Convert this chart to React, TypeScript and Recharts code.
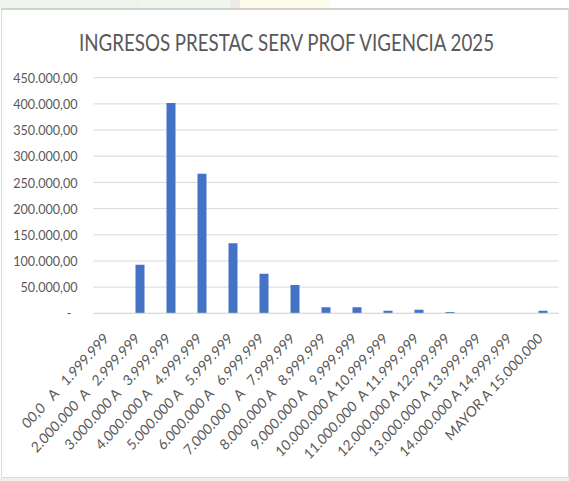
import React from 'react';
import { BarChart, Bar, XAxis, YAxis, CartesianGrid } from 'recharts';

const title = 'INGRESOS PRESTAC SERV PROF VIGENCIA 2025';

const categories = [
  '00,0   A   1.999.999',
  '2.000.000  A   2.999.999',
  '3.000.000 A   3.999.999',
  '4.000.000 A   4.999.999',
  '5.000.000 A   5.999.999',
  '6.000.000 A   6.999.999',
  '7.000.000   A   7.999.999',
  '8.000.000 A   8.999.999',
  '9.000.000 A   9.999.999',
  '10.000.000 A 10.999.999',
  '11.000.000  A 11.999.999',
  '12.000.000 A 12.999.999',
  '13.000.000 A 13.999.999',
  '14.000.000 A 14.999.999',
  'MAYOR A 15.000.000',
];

const ingresos = [500, 92500, 401500, 266500, 134000, 75500, 54000, 11500, 11500, 5000, 7000, 2500, 600, 500, 5000];

const yTicks = [0, 50000, 100000, 150000, 200000, 250000, 300000, 350000, 400000, 450000];

const data = categories.map((c, i) => ({ rango: c, valor: ingresos[i] }));

const FONT = 'Lato, "Open Sans", sans-serif';
const TEXT_COLOR = '#595959';

function formatMoney(v: number): string {
  if (v === 0) return '-';
  const s = Math.round(v).toString().replace(/\B(?=(\d{3})+(?!\d))/g, '.');
  return s + ',00';
}

const YTick = (props: any) => {
  const { x, y, payload } = props;
  const isZero = payload.value === 0;
  return (
    <g transform={`translate(${x - (isZero ? 6 : 0)},${y}) scale(1,1.12)`}>
      <text
        x={0}
        y={0}
        dy="0.36em"
        textAnchor="end"
        fill={TEXT_COLOR}
        fontSize={12.6}
        fontFamily={FONT}
      >
        {formatMoney(payload.value)}
      </text>
    </g>
  );
};

const XTick = (props: any) => {
  const { x, y, payload } = props;
  return (
    <g transform={`translate(${x + 0.5},${y + 18.2}) scale(1,1.1)`}>
      <text
        x={0}
        y={0}
        textAnchor="end"
        transform="rotate(-45)"
        fill={TEXT_COLOR}
        fontSize={13.4}
        fontFamily={FONT}
        style={{ whiteSpace: 'pre' }}
      >
        {payload.value}
      </text>
    </g>
  );
};

export default function App() {
  return (
    <div
      style={{
        position: 'fixed',
        left: 0,
        top: 0,
        width: 569,
        height: 481,
        background: '#ffffff',
        overflow: 'hidden',
      }}
    >
      {/* faint background strip at top */}
      <div style={{ position: 'absolute', left: 0, top: 0, width: 569, height: 8, background: '#ffffff' }} />
      <div style={{ position: 'absolute', left: 0, top: 0, width: 140, height: 8, background: '#eef3ee' }} />
      <div style={{ position: 'absolute', left: 140, top: 0, width: 90, height: 8, background: '#f1f7ef' }} />
      <div style={{ position: 'absolute', left: 230, top: 0, width: 10, height: 8, background: '#f0eaea' }} />
      <div style={{ position: 'absolute', left: 240, top: 0, width: 90, height: 8, background: '#fdfbe9' }} />
      {/* frame */}
      <div
        style={{
          position: 'absolute',
          left: 1,
          top: 8,
          width: 566,
          height: 467,
          borderTop: '2px solid #d2d2d2',
          borderLeft: '1px solid #dcdcdc',
          borderRight: '1px solid #dcdcdc',
          borderBottom: '1px solid #dcdcdc',
        }}
      />
      <div style={{ position: 'absolute', left: 0, top: 478, width: 569, height: 3, background: '#eeeeee' }} />

      <svg style={{ position: 'absolute', left: 0, top: 0 }} width={569} height={70}>
        <g transform="translate(286.5,51) scale(1,1.08)">
          <text
            x={0}
            y={0}
            textAnchor="middle"
            fill={TEXT_COLOR}
            fontSize={21}
            fontFamily={FONT}
            textLength={415}
            lengthAdjust="spacingAndGlyphs"
          >
            {title}
          </text>
        </g>
      </svg>

      <div style={{ position: 'absolute', left: 0, top: 0 }}>
        <BarChart
          width={569}
          height={481}
          data={data}
          margin={{ top: 77.7, right: 10.5, bottom: 7.7, left: 8.5 }}
          barCategoryGap={0}
        >
          <CartesianGrid vertical={false} stroke="#d9d9d9" strokeWidth={1} />
          <XAxis
            dataKey="rango"
            interval={0}
            tickLine={false}
            axisLine={{ stroke: '#d9d9d9' }}
            height={160}
            tick={<XTick />}
          />
          <YAxis
            domain={[0, 450000]}
            ticks={yTicks}
            width={85}
            tickLine={false}
            axisLine={false}
            tickMargin={10}
            tick={<YTick />}
            allowDataOverflow
          />
          <Bar dataKey="valor" fill="#4472c4" barSize={9} isAnimationActive={false} />
        </BarChart>
      </div>
    </div>
  );
}
